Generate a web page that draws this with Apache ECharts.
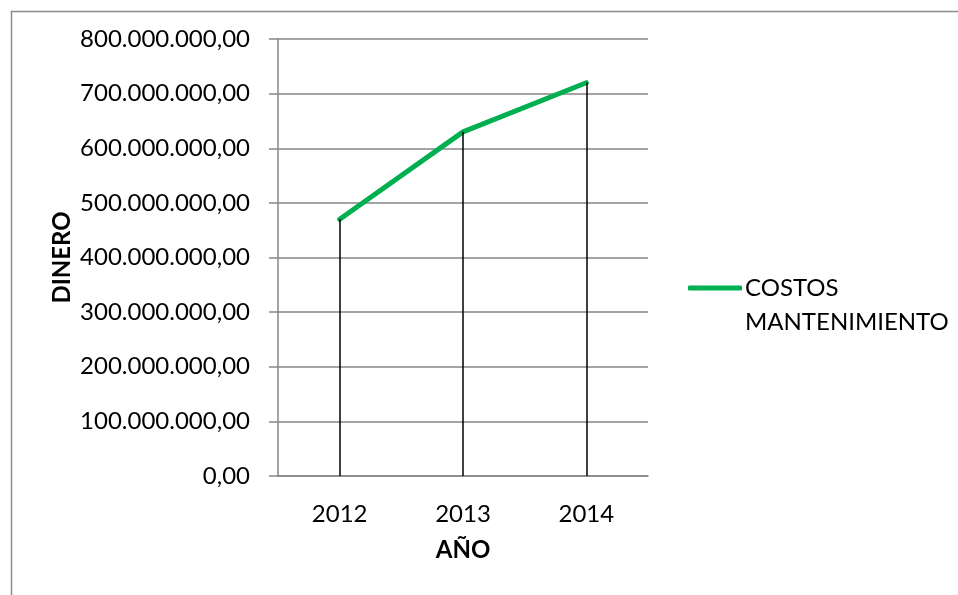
<!DOCTYPE html>
<html><head><meta charset="utf-8">
<script src="https://cdn.jsdelivr.net/npm/echarts@6/dist/echarts.min.js"></script>
<style>html,body{margin:0;padding:0;background:#fff}#c{width:958px;height:595px}</style>
</head><body><div id="c"></div>
<script>
const years = ['2012', '2013', '2014'];
const costos = [470000000, 630000000, 720000000];
const seriesName = 'COSTOS MANTENIMIENTO';
const legendLines = ['COSTOS', 'MANTENIMIENTO'];

function fmt(v) {
  const s = Math.round(v).toString().replace(/\B(?=(\d{3})+(?!\d))/g, '.');
  return s + ',00';
}
const FONT = 'Lato';
const chart = echarts.init(document.getElementById('c'));
chart.setOption({
  animation: false,
  backgroundColor: '#fff',
  graphic: [{
    type: 'rect', left: 9, top: 9, shape: { width: 1200, height: 1200 },
    style: { fill: 'none', stroke: '#8c8c8c', lineWidth: 1.5 }, silent: true
  }, {
    type: 'text', left: 745, top: 322 - 17,
    style: { text: legendLines[1], fontFamily: FONT, fontSize: 24, fill: '#000', lineHeight: 34 }
  }],
  grid: { left: 278, right: 310, top: 39, bottom: 119 },
  legend: {
    left: 688, top: 271, orient: 'vertical', padding: 0,
    itemWidth: 54, itemHeight: 5, icon: 'roundRect', itemGap: 0,
    formatter: () => legendLines[0],
    textStyle: { fontFamily: FONT, fontSize: 24, color: '#000', lineHeight: 34, padding: [0, 0, 0, -2] }
  },
  xAxis: {
    type: 'category', data: years, boundaryGap: true,
    name: 'AÑO', nameLocation: 'middle', nameGap: 62,
    nameTextStyle: { fontFamily: FONT, fontSize: 24, fontWeight: 'bold', color: '#000' },
    axisLine: { lineStyle: { color: '#868686', width: 1.5 } },
    axisTick: { show: false },
    axisLabel: { fontFamily: FONT, fontSize: 24, color: '#000', margin: 26 }
  },
  yAxis: {
    type: 'value', min: 0, max: 800000000, interval: 100000000,
    name: 'DINERO', nameLocation: 'middle', nameGap: 204, nameRotate: 90,
    nameTextStyle: { fontFamily: FONT, fontSize: 24, fontWeight: 'bold', color: '#000' },
    axisLine: { show: true, lineStyle: { color: '#868686', width: 1.5 } },
    axisTick: { show: true, length: 9, lineStyle: { color: '#868686', width: 1.5 } },
    splitLine: { lineStyle: { color: '#868686', width: 1.5 } },
    axisLabel: { fontFamily: FONT, fontSize: 24, color: '#000', margin: 28, formatter: fmt }
  },
  series: [{
    name: seriesName, type: 'line', data: costos,
    symbol: 'none', z: 3,
    lineStyle: { color: '#00B050', width: 5, cap: 'round', join: 'round' },
    itemStyle: { color: '#00B050' },
    markLine: {
      silent: true, symbol: 'none', label: { show: false },
      lineStyle: { color: '#000', width: 1.5, type: 'solid' },
      data: years.map((y, i) => [{ coord: [y, 0] }, { coord: [y, costos[i]] }])
    }
  }]
});
</script></body></html>
